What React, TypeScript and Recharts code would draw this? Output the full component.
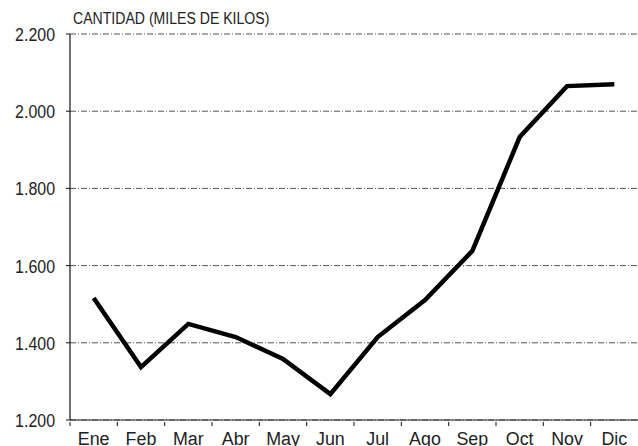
import React from 'react';
import { LineChart, Line, XAxis, YAxis, CartesianGrid } from 'recharts';

const months = ['Ene', 'Feb', 'Mar', 'Abr', 'May', 'Jun', 'Jul', 'Ago', 'Sep', 'Oct', 'Nov', 'Dic'];
const cantidad = [1516, 1337, 1449, 1415, 1358, 1267, 1415, 1511, 1638, 1933, 2065, 2070];
const yTicks = [1200, 1400, 1600, 1800, 2000, 2200];
const title = 'CANTIDAD (MILES DE KILOS)';

const data = months.map((m, i) => ({ mes: m, valor: cantidad[i] }));

const FONT = '"Liberation Sans", Arial, sans-serif';
const W = 638;
const H = 446;
const LEFT = 70;
const BAND = (W - LEFT) / months.length;

const fmt = (v: number) => {
  const s = String(v);
  return s.length > 3 ? s.slice(0, s.length - 3) + '.' + s.slice(-3) : s;
};

const XTick = (props: any) => {
  const { x, y, payload } = props;
  return (
    <g>
      <line x1={x - BAND / 2} y1={y} x2={x - BAND / 2} y2={y + 4} stroke="#111" strokeWidth={1} />
      <text
        transform={`translate(${x},${y + 23}) scale(0.94,1)`}
        x={0}
        y={0}
        textAnchor="middle"
        fontFamily={FONT}
        fontSize={19}
        fill="#222"
      >
        {payload.value}
      </text>
    </g>
  );
};

const YTick = (props: any) => {
  const { y, payload } = props;
  return (
    <g>
      <line x1={LEFT - 4} y1={y} x2={LEFT} y2={y} stroke="#111" strokeWidth={1} />
      <text
        transform={`translate(${LEFT - 15},${y + 7}) scale(0.84,1)`}
        x={0}
        y={0}
        textAnchor="end"
        fontFamily={FONT}
        fontSize={19}
        fill="#222"
      >
        {fmt(payload.value)}
      </text>
    </g>
  );
};

export default function App() {
  return (
    <div style={{ position: 'absolute', left: 0, top: 0, width: W, height: H, background: '#fff' }}>
      <LineChart width={W} height={H} data={data} margin={{ top: 34, right: 0, bottom: 0, left: 0 }}>
        <CartesianGrid horizontal={true} vertical={false} stroke="#555" strokeDasharray="6 2 1 2" />
        <XAxis
          dataKey="mes"
          scale="band"
          height={26}
          tickSize={0}
          tickLine={false}
          axisLine={{ stroke: '#222', strokeWidth: 1 }}
          tick={<XTick />}
          interval={0}
        />
        <YAxis
          width={LEFT}
          domain={[1200, 2200]}
          ticks={yTicks}
          tickSize={0}
          tickLine={false}
          axisLine={{ stroke: '#111', strokeWidth: 1.2 }}
          tick={<YTick />}
          interval={0}
        />
        <Line
          type="linear"
          dataKey="valor"
          stroke="#000"
          strokeWidth={4.5}
          dot={false}
          isAnimationActive={false}
        />
      </LineChart>
      <div
        style={{
          position: 'absolute',
          left: 73,
          top: 10,
          fontFamily: FONT,
          fontSize: 16,
          lineHeight: '18px',
          color: '#222',
          whiteSpace: 'nowrap',
          transform: 'scaleX(0.88)',
          transformOrigin: 'left top',
        }}
      >
        {title}
      </div>
    </div>
  );
}
